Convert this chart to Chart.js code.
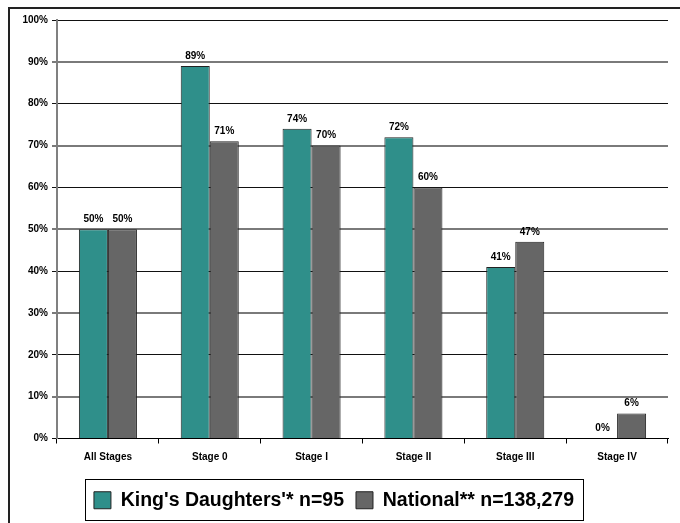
<!DOCTYPE html>
<html>
<head>
<meta charset="utf-8">
<script src="https://cdn.jsdelivr.net/npm/chart.js@4"></script>
<style>
  body { margin: 0; background: #fff; }
  #wrap { width: 680px; height: 523px; }
</style>
</head>
<body>
<div id="wrap"><canvas id="my-chart" width="680" height="523"></canvas></div>
<script>
const stages = ['All Stages', 'Stage 0', 'Stage I', 'Stage II', 'Stage III', 'Stage IV'];
const kingsDaughters = [50, 89, 74, 72, 41, 0];
const national = [50, 71, 70, 60, 47, 6];
const seriesNames = ["King's Daughters'* n=95", 'National** n=138,279'];

const tickFont = { family: 'Liberation Sans, Arial, sans-serif', size: 10, weight: 'bold' };

// frame round the whole picture (only left and top show)
const frame = {
  id: 'frame',
  beforeDraw(chart) {
    const ctx = chart.ctx;
    ctx.save();
    ctx.fillStyle = '#222';
    ctx.fillRect(8, 7, 672, 2);
    ctx.fillRect(8, 7, 2, 516);
    ctx.restore();
  }
};

// percent labels above the bars
const barLabels = {
  id: 'barLabels',
  afterDatasetsDraw(chart) {
    const ctx = chart.ctx;
    ctx.save();
    ctx.font = 'bold 10px Liberation Sans, Arial, sans-serif';
    ctx.fillStyle = '#000';
    ctx.textAlign = 'center';
    ctx.textBaseline = 'bottom';
    chart.data.datasets.forEach((ds, i) => {
      chart.getDatasetMeta(i).data.forEach((bar, j) => {
        ctx.fillText(ds.data[j] + '%', bar.x, bar.y - 5);
      });
    });
    ctx.restore();
  }
};

// box round the legend
const legendBox = {
  id: 'legendBox',
  afterDraw(chart) {
    const lg = chart.legend;
    if (!lg || !lg.legendHitBoxes.length) return;
    const boxes = lg.legendHitBoxes;
    const left = Math.min(...boxes.map(b => b.left)) - 9;
    const right = Math.max(...boxes.map(b => b.left + b.width)) + 9;
    const ctx = chart.ctx;
    ctx.save();
    ctx.strokeStyle = '#000';
    ctx.lineWidth = 1;
    ctx.strokeRect(Math.round(left) + 0.5, Math.round(lg.top) + 0.5, Math.round(right - left), Math.round(lg.height) - 1);
    ctx.restore();
  }
};

const ctx = document.getElementById('my-chart').getContext('2d');
const chart = new Chart(ctx, {
  type: 'bar',
  data: {
    labels: stages,
    datasets: [
      {
        label: seriesNames[0],
        data: kingsDaughters,
        backgroundColor: '#2f8f8a',
        borderColor: '#222',
        borderWidth: 1
      },
      {
        label: seriesNames[1],
        data: national,
        backgroundColor: '#666666',
        borderColor: '#222',
        borderWidth: 1
      }
    ]
  },
  options: {
    responsive: false,
    animation: false,
    layout: { padding: { left: 0, right: 12, top: 20, bottom: 3 } },
    datasets: { bar: { categoryPercentage: 0.57, barPercentage: 1.0 } },
    scales: {
      x: {
        grid: { offset: true, drawOnChartArea: false, color: '#000', tickLength: 5 },
        border: { color: '#000', width: 1 },
        ticks: { font: tickFont, color: '#000', padding: 8 },
        afterFit(scale) { scale.height = 40; }
      },
      y: {
        min: 0,
        max: 100,
        grid: {
          color: c => (c.tick && c.tick.value % 20 === 0) ? '#111' : '#7a7a7a',
          lineWidth: c => (c.tick && c.tick.value % 20 === 0) ? 1 : 2,
          tickLength: 5
        },
        border: { color: '#808080', width: 2 },
        ticks: {
          stepSize: 10,
          font: tickFont,
          color: '#000',
          padding: 4,
          callback: v => v + '%'
        },
        afterFit(scale) { scale.width = 57; }
      }
    },
    plugins: {
      legend: {
        position: 'bottom',
        labels: {
          font: { family: 'Liberation Sans, Arial, sans-serif', size: 19.5, weight: 'bold' },
          color: '#000',
          boxWidth: 17,
          boxHeight: 17,
          padding: 12
        }
      },
      tooltip: { enabled: false }
    }
  },
  plugins: [frame, barLabels, legendBox]
});
</script>
</body>
</html>
